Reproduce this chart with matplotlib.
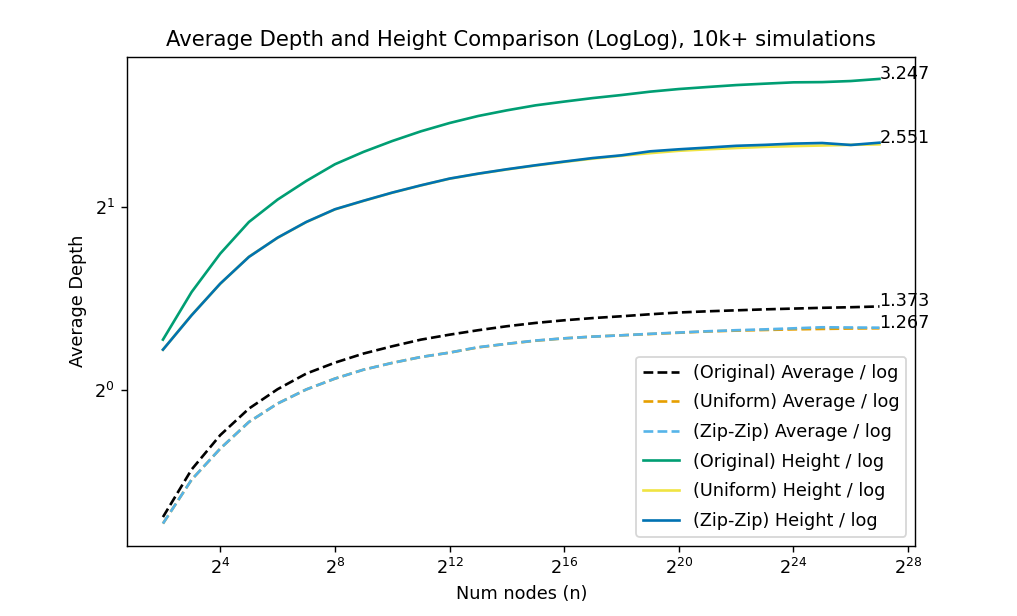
import numpy as np
import matplotlib
matplotlib.use('Agg')
import matplotlib.pyplot as plt

# node counts are powers of two, 2^2 .. 2^27
exponents = list(range(2, 28))
num_nodes = [2 ** k for k in exponents]

# average depth divided by log2(n)
orig_avg = [0.619, 0.741, 0.844, 0.933, 1.004, 1.065, 1.110, 1.149, 1.181, 1.211,
            1.234, 1.255, 1.274, 1.290, 1.303, 1.314, 1.323, 1.333, 1.342, 1.348,
            1.353, 1.358, 1.362, 1.366, 1.369, 1.373]
unif_avg = [0.604, 0.713, 0.802, 0.887, 0.951, 1.003, 1.045, 1.081, 1.109, 1.134,
            1.153, 1.176, 1.192, 1.206, 1.217, 1.225, 1.231, 1.237, 1.243, 1.249,
            1.253, 1.256, 1.259, 1.261, 1.263, 1.264]
zip_avg = [0.604, 0.713, 0.802, 0.887, 0.951, 1.003, 1.045, 1.081, 1.109, 1.134,
           1.153, 1.177, 1.192, 1.207, 1.217, 1.225, 1.231, 1.238, 1.244, 1.250,
           1.255, 1.259, 1.264, 1.269, 1.268, 1.267]

# height divided by log2(n)
orig_height = [1.211, 1.450, 1.677, 1.890, 2.057, 2.207, 2.351, 2.464, 2.567, 2.663,
               2.748, 2.822, 2.883, 2.938, 2.980, 3.020, 3.055, 3.094, 3.125, 3.149,
               3.172, 3.189, 3.205, 3.208, 3.221, 3.247]
unif_height = [1.166, 1.329, 1.496, 1.657, 1.780, 1.889, 1.982, 2.047, 2.111, 2.170,
               2.226, 2.268, 2.305, 2.340, 2.372, 2.402, 2.428, 2.452, 2.474, 2.488,
               2.500, 2.511, 2.518, 2.524, 2.530, 2.535]
zip_height = [1.166, 1.328, 1.497, 1.656, 1.781, 1.890, 1.983, 2.048, 2.112, 2.171,
              2.227, 2.269, 2.307, 2.342, 2.375, 2.407, 2.432, 2.469, 2.488, 2.504,
              2.521, 2.530, 2.542, 2.548, 2.529, 2.551]

DPI = 127
fig = plt.figure(figsize=(1017 / DPI, 616 / DPI), dpi=DPI)
ax = fig.add_subplot(111)
fig.subplots_adjust(left=0.125, right=0.9, bottom=0.114, top=0.908)

ax.plot(num_nodes, orig_avg, '--', color='#000000', label='(Original) Average / log')
ax.plot(num_nodes, unif_avg, '--', color='#E69F00', label='(Uniform) Average / log')
ax.plot(num_nodes, zip_avg, '--', color='#56B4E9', label='(Zip-Zip) Average / log')
ax.plot(num_nodes, orig_height, '-', color='#009E73', label='(Original) Height / log')
ax.plot(num_nodes, unif_height, '-', color='#F0E442', label='(Uniform) Height / log')
ax.plot(num_nodes, zip_height, '-', color='#0072B2', label='(Zip-Zip) Height / log')

# final values written next to the last point
for series in [orig_avg, zip_avg, orig_height, zip_height]:
    ax.text(num_nodes[-1], series[-1], f'{series[-1]:.3f}')

ax.set_xscale('log', base=2)
ax.set_yscale('log', base=2)
ax.set_xticks([2 ** k for k in range(4, 29, 4)])
ax.minorticks_off()

ax.set_title('Average Depth and Height Comparison (LogLog), 10k+ simulations')
ax.set_xlabel('Num nodes (n)')
ax.set_ylabel('Average Depth')
ax.legend(loc='lower right', labelspacing=0.66)

fig.savefig('out.png', dpi=DPI)
